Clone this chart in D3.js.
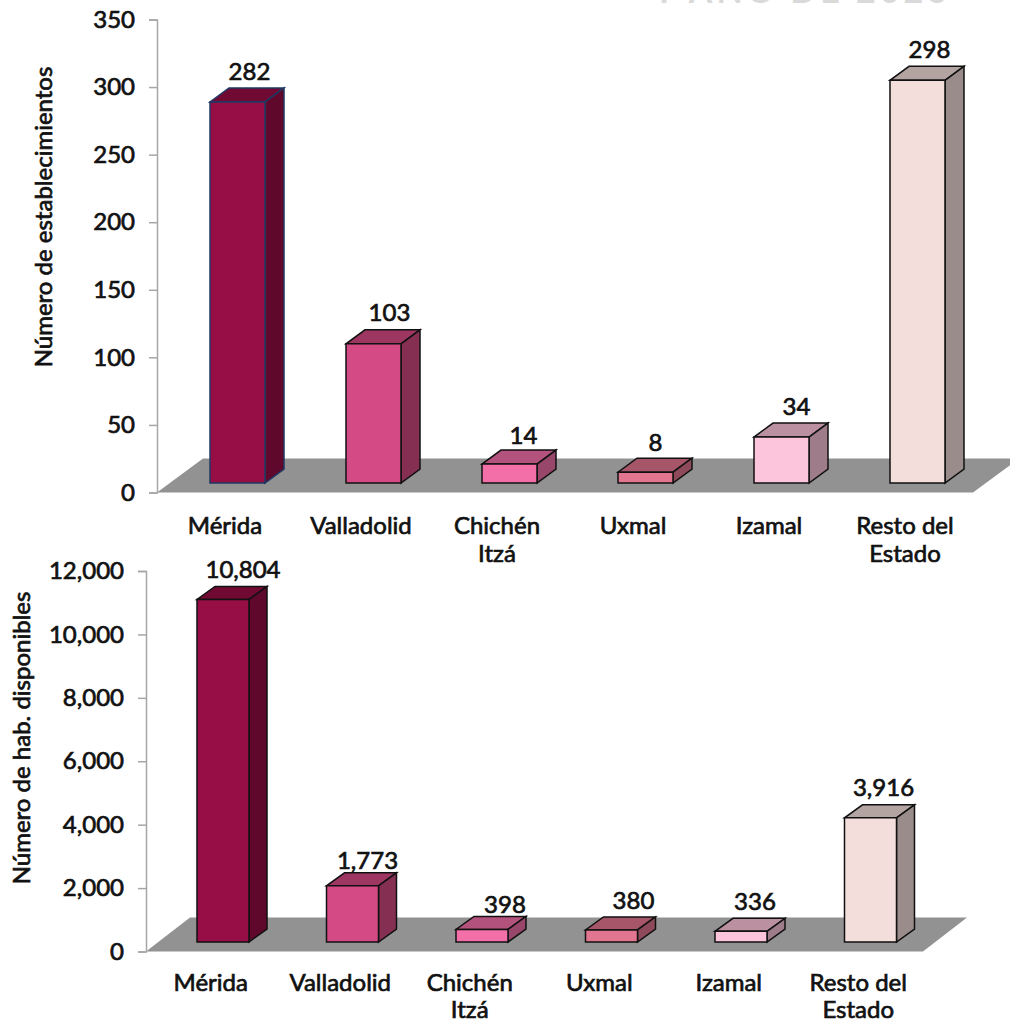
<!DOCTYPE html>
<html><head><meta charset="utf-8">
<script src="https://cdn.jsdelivr.net/npm/d3@7"></script>
<style>html,body{margin:0;background:#fff}svg{display:block}text{font-family:Lato,sans-serif;fill:#111;stroke:#111;stroke-width:.7px}</style>
</head><body><svg id="c" width="1010" height="1022"></svg>
<script>
const categories=[["Mérida"],["Valladolid"],["Chichén","Itzá"],["Uxmal"],["Izamal"],["Resto del","Estado"]];
const establecimientos=[282,103,14,8,34,298];
const habitaciones=[10804,1773,398,380,336,3916];
const colors=["#970D45","#D44A84","#F26FA8","#E2758F","#FDC5DC","#F3DEDC"];
const svg=d3.select("#c");
svg.append("text").attr("x",802).attr("y",3).attr("text-anchor","middle").attr("font-size",34).attr("font-weight",700).attr("letter-spacing",4).style("fill","#d9d9d9").style("stroke","none").text("Y AÑO DE 2023");
function chart(o){
 const g=svg.append("g");
 const x=d3.scaleBand().domain(d3.range(6)).range([o.x0,o.x1]);
 const y=d3.scaleLinear().domain([0,o.max]).range([o.y0,o.yT]);
 const front=y(0)-o.lift;
 const h=v=>y(0)-y(v);
 g.append("polygon").attr("fill","#929292").attr("points",[[o.x0,o.y0],[o.x1,o.y0],[o.x1+o.fx,o.y0-o.fy],[o.x0+o.fx,o.y0-o.fy]].join(" "));
 const ax=g.append("g").attr("transform",`translate(${o.x0},0)`).call(d3.axisLeft(y).tickValues(d3.range(0,o.max+1,o.step)).tickFormat(d3.format(",")).tickSize(8).tickPadding(14));
 ax.selectAll("path,line").attr("stroke","#a6a6a6").attr("stroke-width",1.5);
 ax.selectAll("text").attr("font-size",o.fs).attr("font-weight",400).style("font-family","Lato").style("fill","#111");
 g.append("text").attr("transform",`translate(${o.tx},${o.ty}) rotate(-90)`).attr("text-anchor","middle").attr("font-size",o.ts).attr("font-weight",400).text(o.title);
 o.values.forEach((v,i)=>{
  const c=d3.color(colors[i]);
  const L=x(i)+o.off,R=L+o.w,T=front-h(v),B=front;
  const stroke=o.navy&&i===0?"#1f3864":"#111";
  const st={stroke,"stroke-width":1.5,"stroke-linejoin":"miter"};
  const poly=(pts,fill)=>{const p=g.append("polygon").attr("points",pts.join(" ")).attr("fill",fill);for(const k in st)p.attr(k,st[k]);};
  poly([[L,T],[R,T],[R+o.dx,T-o.dy],[L+o.dx,T-o.dy]],c.darker(.85).formatHex());
  poly([[R,T],[R+o.dx,T-o.dy],[R+o.dx,B-o.dy],[R,B]],c.darker(1.3).formatHex());
  poly([[L,T],[R,T],[R,B],[L,B]],colors[i]);
  g.append("text").attr("x",L+o.w/2+o.lx[i]).attr("y",T-o.dy+o.ly[i]).attr("text-anchor","middle").attr("font-size",o.fs).attr("font-weight",400).text(d3.format(",")(v));
 });
 categories.forEach((lines,i)=>{
  const t=g.append("text").attr("text-anchor","middle").attr("font-size",o.fs).attr("font-weight",400);
  lines.forEach((s,j)=>t.append("tspan").attr("x",x(i)+x.bandwidth()/2).attr("y",o.y0+o.ly0+j*o.lh).text(s));
 });
}
chart({values:establecimientos,max:350,step:50,x0:157,x1:973,y0:492.5,yT:19.5,lift:9.5,fx:46,fy:34,off:53,w:55,dx:19,dy:14,navy:true,
 fs:24,ts:24,title:"Número de establecimientos",tx:52,ty:217,ly0:41,lh:28,lx:[12,16,14,10,15,12],ly:[-8,-9,-6,-7,-8,-8]});
chart({values:habitaciones,max:12000,step:2000,x0:146,x1:923,y0:951.5,yT:571,lift:9.5,fx:44,fy:34,off:51,w:52,dx:18,dy:13,
 fs:24,ts:24,title:"Número de hab. disponibles",tx:30,ty:738,ly0:39.5,lh:26.5,lx:[20,15,23,22,14,13],ly:[-8,-4,-3,-8,-8,-9]});
</script></body></html>
